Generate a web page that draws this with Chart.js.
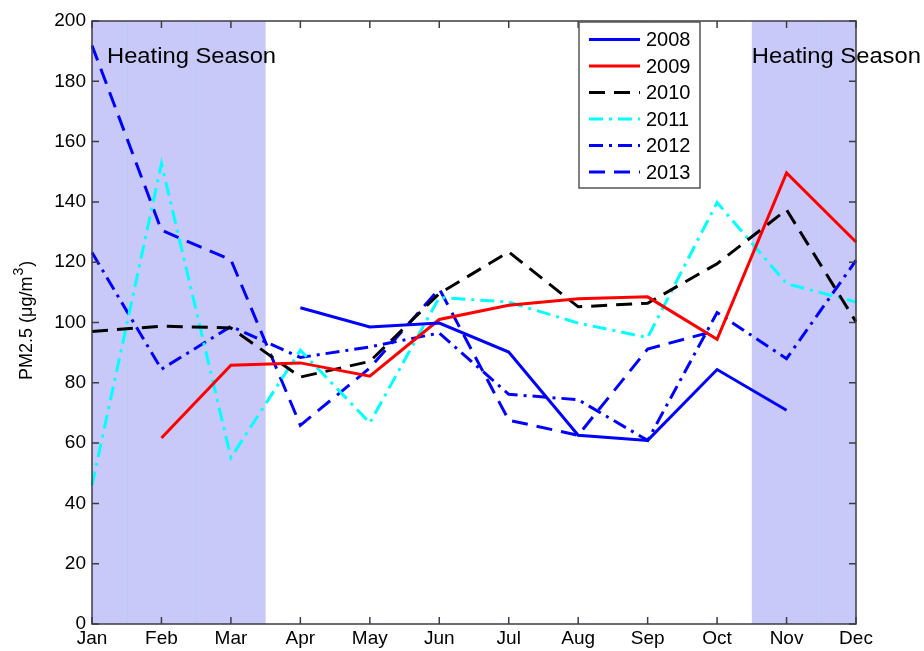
<!DOCTYPE html>
<html>
<head>
<meta charset="utf-8">
<script src="https://cdn.jsdelivr.net/npm/chart.js@4/dist/chart.umd.min.js"></script>
<style>
  html, body { margin: 0; padding: 0; background: #fff; }
  #wrap { width: 924px; height: 651px; }
</style>
</head>
<body>
<div id="wrap"><canvas id="chart"></canvas></div>
<script>
const months = ['Jan', 'Feb', 'Mar', 'Apr', 'May', 'Jun', 'Jul', 'Aug', 'Sep', 'Oct', 'Nov', 'Dec'];
const years = ['2008', '2009', '2010', '2011', '2012', '2013'];

const pm2008 = [null, null, null, 104.9, 98.5, 99.8, 90.2, 62.6, 60.9, 84.4, 70.9, null];
const pm2009 = [null, 61.7, 85.8, 86.6, 82.2, 101.0, 105.7, 107.9, 108.5, 94.4, 149.6, 126.7];
const pm2010 = [97.0, 98.8, 98.2, 81.9, 87.1, 109.6, 123.4, 105.2, 106.4, 119.5, 137.4, 100.2];
const pm2011 = [46.0, 152.7, 55.2, 90.8, 66.7, 108.3, 106.8, 99.8, 95.0, 139.8, 112.9, 106.8];
const pm2012 = [123.2, 84.5, 98.7, 88.4, 91.9, 96.5, 76.2, 74.4, 60.9, 103.3, 88.0, 120.6];
const pm2013 = [191.9, 130.6, 120.8, 65.9, 84.9, 111.2, 67.6, 62.6, 91.2, 97.4, null, null];

const yTicks = [0, 20, 40, 60, 80, 100, 120, 140, 160, 180, 200];
// heating season bands in month-index units
const heatingBands = [[0, 2.5], [9.5, 11]];
const bandSeams = [0.5, 1.5, 10.5];

const series = [
  { data: pm2008, color: '#0000ff', dash: [] },
  { data: pm2009, color: '#ff0000', dash: [] },
  { data: pm2010, color: '#000000', dash: [16, 9] },
  { data: pm2011, color: '#00ffff', dash: [14, 6, 3, 6] },
  { data: pm2012, color: '#0000ff', dash: [14, 6, 3, 6] },
  { data: pm2013, color: '#0000ff', dash: [16, 9] },
];

const datasets = series.map(function (s, i) {
  return {
    label: years[i],
    data: s.data,
    borderColor: s.color,
    backgroundColor: s.color,
    borderWidth: 3,
    borderDash: s.dash,
    pointRadius: 0,
    tension: 0,
    spanGaps: false,
    fill: false,
  };
});

const FONT = '"Liberation Sans", Arial, sans-serif';

const decor = {
  id: 'decor',
  beforeDatasetsDraw(chart) {
    const ctx = chart.ctx;
    const a = chart.chartArea;
    const x = chart.scales.x;
    ctx.save();
    ctx.fillStyle = '#c9c9f9';
    heatingBands.forEach(function (b) {
      const x0 = x.getPixelForValue(b[0]);
      const x1 = x.getPixelForValue(b[1]);
      ctx.fillRect(x0, a.top, x1 - x0, a.bottom - a.top);
    });
    ctx.strokeStyle = '#b9cdf2';
    ctx.lineWidth = 1;
    bandSeams.forEach(function (v) {
      const px = Math.round(x.getPixelForValue(v)) + 0.5;
      ctx.beginPath();
      ctx.moveTo(px, a.top);
      ctx.lineTo(px, a.bottom);
      ctx.stroke();
    });
    ctx.restore();
  },
  afterDatasetsDraw(chart) {
    const ctx = chart.ctx;
    const a = chart.chartArea;
    const x = chart.scales.x;
    const y = chart.scales.y;
    ctx.save();
    // frame + inward ticks
    ctx.strokeStyle = '#3c3c44';
    ctx.lineWidth = 1.5;
    ctx.strokeRect(a.left, a.top, a.right - a.left, a.bottom - a.top);
    ctx.beginPath();
    months.forEach(function (m, i) {
      const px = x.getPixelForValue(i);
      ctx.moveTo(px, a.bottom); ctx.lineTo(px, a.bottom - 7);
      ctx.moveTo(px, a.top); ctx.lineTo(px, a.top + 7);
    });
    yTicks.forEach(function (v) {
      const py = y.getPixelForValue(v);
      ctx.moveTo(a.left, py); ctx.lineTo(a.left + 7, py);
      ctx.moveTo(a.right, py); ctx.lineTo(a.right - 7, py);
    });
    ctx.stroke();

    // heating season labels
    ctx.fillStyle = '#000';
    ctx.font = '22px ' + FONT;
    ctx.textBaseline = 'alphabetic';
    ctx.textAlign = 'left';
    [[x.getPixelForValue(heatingBands[0][0]) + 15, 63], [x.getPixelForValue(heatingBands[1][0]), 63]].forEach(function (p) {
      ctx.save();
      ctx.translate(p[0], p[1]);
      ctx.scale(1.08, 1);
      ctx.fillText('Heating Season', 0, 0);
      ctx.restore();
    });

    // y axis title with superscript
    ctx.save();
    ctx.translate(32, 380);
    ctx.rotate(-Math.PI / 2);
    ctx.textBaseline = 'alphabetic';
    ctx.font = '18px ' + FONT;
    const t1 = 'PM2.5 (\u03bcg/m';
    ctx.fillText(t1, 0, 0);
    let off = ctx.measureText(t1).width;
    ctx.font = '14px ' + FONT;
    ctx.fillText('3', off + 1, -9);
    off += ctx.measureText('3').width + 2;
    ctx.font = '18px ' + FONT;
    ctx.fillText(')', off, 0);
    ctx.restore();

    // legend
    const lx = 579, ly = 22, lw = 121, lh = 166;
    ctx.fillStyle = '#fff';
    ctx.fillRect(lx, ly, lw, lh);
    ctx.strokeStyle = '#555';
    ctx.lineWidth = 1.5;
    ctx.strokeRect(lx, ly, lw, lh);
    ctx.font = '20px ' + FONT;
    ctx.textBaseline = 'middle';
    chart.data.datasets.forEach(function (ds, i) {
      const cy = 39.5 + i * 26.5;
      ctx.strokeStyle = ds.borderColor;
      ctx.lineWidth = 3;
      ctx.setLineDash(ds.borderDash);
      ctx.beginPath();
      ctx.moveTo(589, cy);
      ctx.lineTo(640, cy);
      ctx.stroke();
      ctx.setLineDash([]);
      ctx.fillStyle = '#000';
      ctx.fillText(ds.label, 646, cy + 1);
    });
    ctx.restore();
  },
};

new Chart('chart', {
  type: 'line',
  data: { labels: months, datasets: datasets },
  plugins: [decor],
  options: {
    responsive: true,
    maintainAspectRatio: false,
    animation: false,
    layout: { padding: { left: 0, top: 21, right: 68, bottom: 0 } },
    plugins: {
      legend: { display: false },
      tooltip: { enabled: false },
    },
    scales: {
      x: {
        type: 'category',
        offset: false,
        grid: { display: false, drawTicks: false },
        border: { display: false },
        ticks: {
          color: '#000',
          padding: 3,
          autoSkip: false,
          maxRotation: 0,
          font: { family: FONT, size: 19 },
        },
        afterFit: function (s) { s.height = 27; },
      },
      y: {
        min: 0,
        max: 200,
        grid: { display: false, drawTicks: false },
        border: { display: false },
        afterBuildTicks: function (s) {
          s.ticks = yTicks.map(function (v) { return { value: v }; });
        },
        ticks: {
          color: '#000',
          padding: 6,
          font: { family: FONT, size: 19 },
        },
        afterFit: function (s) { s.width = 92; },
      },
    },
  },
});
</script>
</body>
</html>
